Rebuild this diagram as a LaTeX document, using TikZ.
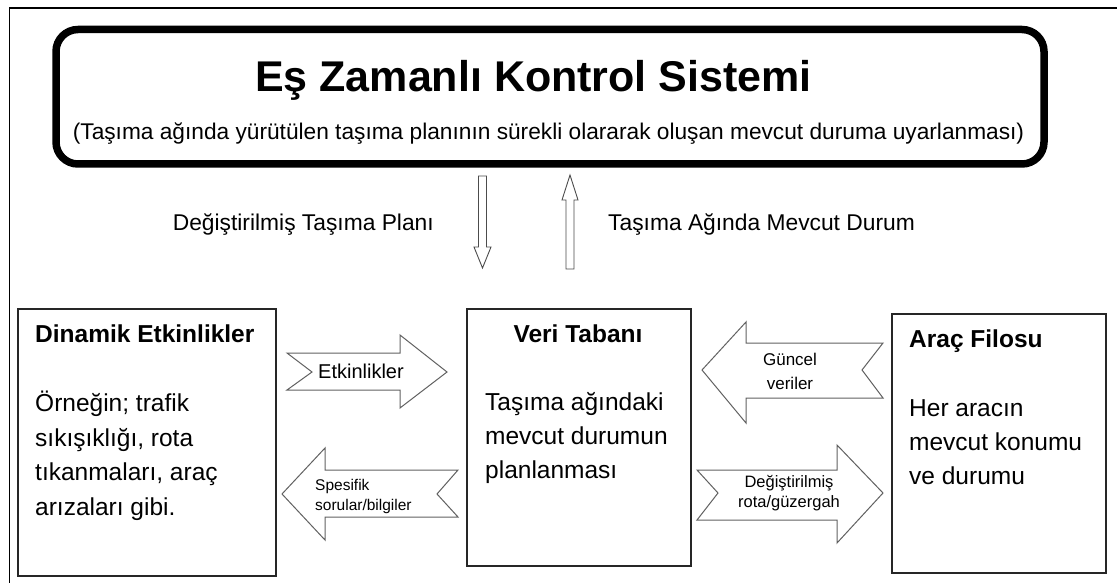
\documentclass[tikz,border=0pt]{standalone}
\usepackage{fontspec}
\setmainfont{Liberation Sans}
\newcommand{\fsz}[1]{\fontsize{#1pt}{#1pt}\selectfont}
\begin{document}
\begin{tikzpicture}[x=1pt,y=-1pt,
  lbl/.style={inner sep=0pt, anchor=base, text=black},
  lblw/.style={inner sep=0pt, anchor=base west, text=black},
  boxnode/.style={draw=black!85, line width=1.3pt, fill=white, inner sep=0pt},
  blk/.style={draw=black!62, line width=1pt, fill=white, line join=miter},
  vblk/.style={draw=black!70, line width=0.9pt, fill=white, line join=miter},
  ttl/.style={font=\fsz{24.5}\bfseries},
  bdy/.style={font=\fsz{24.5}},
]
\useasboundingbox (0,0) rectangle (1117,583);
\fill[white] (0,0) rectangle (1117,583);
% outer frame
\coordinate (fbl) at (9.5,583);
\coordinate (ftl) at (9.5,8);
\coordinate (ftr) at (1117,8);
\draw[line width=1.5pt] (fbl) -- (ftl) -- (ftr);

% control system box
\node[draw=black, line width=7.5pt, rounded corners=22pt, minimum width=988pt,
      minimum height=134.5pt, inner sep=0pt] (ctrl) at (550,96.75) {};
\node[lbl, font=\fsz{43}\bfseries] (title) at (533.5,92) {Eş Zamanlı Kontrol Sistemi};
\node[lbl, font=\fsz{22.7}] (sub) at (548.5,140) {(Taşıma ağında yürütülen taşıma planının sürekli olararak oluşan mevcut duruma uyarlanması)};

% vertical arrows
\draw[vblk] (478.5,176) -- (486.5,176) -- (486.5,247) -- (491,247) -- (482.5,268)
  -- (474,247) -- (478.5,247) -- cycle;
\draw[vblk] (566,269) -- (574,269) -- (574,200) -- (578,200) -- (570,175)
  -- (562,200) -- (566,200) -- cycle;
\node[lbl, anchor=base east, font=\fsz{22.8}] (lbldown) at (434,230) {Değiştirilmiş Taşıma Planı};
\node[lblw, font=\fsz{22.8}] (lblup) at (608,230) {Taşıma Ağında Mevcut Durum};

% boxes
\node[boxnode, minimum width=258pt, minimum height=267pt] (dyn) at (147,442.5) {};
\node[boxnode, minimum width=224pt, minimum height=257pt] (veri) at (579,437.5) {};
\node[boxnode, minimum width=214pt, minimum height=259pt] (arac) at (999,443.5) {};

% box texts
\node[lblw, ttl] (dynT) at (35,342) {Dinamik Etkinlikler};
\node[lblw, bdy] (dyn1) at (35,411) {Örneğin; trafik};
\node[lblw, bdy] (dyn2) at (35,446) {sıkışıklığı, rota};
\node[lblw, bdy] (dyn3) at (35,480) {tıkanmaları, araç};
\node[lblw, bdy] (dyn4) at (35,515) {arızaları gibi.};

\node[lbl, ttl] (veriT) at (578,342) {Veri Tabanı};
\node[lblw, bdy] (veri1) at (485,410) {Taşıma ağındaki};
\node[lblw, bdy] (veri2) at (485,444) {mevcut durumun};
\node[lblw, bdy] (veri3) at (485,478) {planlanması};

\node[lblw, ttl] (aracT) at (909,347) {Araç Filosu};
\node[lblw, bdy] (arac1) at (909,416) {Her aracın};
\node[lblw, bdy] (arac2) at (909,450) {mevcut konumu};
\node[lblw, bdy] (arac3) at (909,484) {ve durumu};

% block arrows
% Etkinlikler (right)
\draw[blk] (287,353) -- (400,353) -- (400,335) -- (447,372) -- (400,408)
  -- (400,390) -- (287,390) -- (312,372) -- cycle;
\node[lbl, font=\fsz{20}] (etk) at (361,378) {Etkinlikler};
% Spesifik (left)
\draw[blk] (282,494) -- (325,448) -- (325,470) -- (458,470) -- (437,494)
  -- (458,517) -- (325,517) -- (325,540) -- cycle;
\node[lblw, font=\fsz{15.5}] (spe1) at (315,490) {Spesifik};
\node[lblw, font=\fsz{15.5}] (spe2) at (315,510) {sorular/bilgiler};
% Guncel veriler (left)
\draw[blk] (702,370) -- (746,322) -- (746,343) -- (883,343) -- (862,370)
  -- (883,398) -- (746,398) -- (746,423) -- cycle;
\node[lbl, font=\fsz{17}] (gun1) at (790,365) {Güncel};
\node[lbl, font=\fsz{17}] (gun2) at (790,389) {veriler};
% Degistirilmis rota (right)
\draw[blk] (697,470) -- (837,470) -- (837,445) -- (883,493) -- (837,543)
  -- (837,520) -- (697,520) -- (718,493) -- cycle;
\node[lbl, font=\fsz{16.5}] (deg1) at (789,487) {Değiştirilmiş};
\node[lbl, font=\fsz{16.5}] (deg2) at (789,507) {rota/güzergah};
\end{tikzpicture}
\end{document}
